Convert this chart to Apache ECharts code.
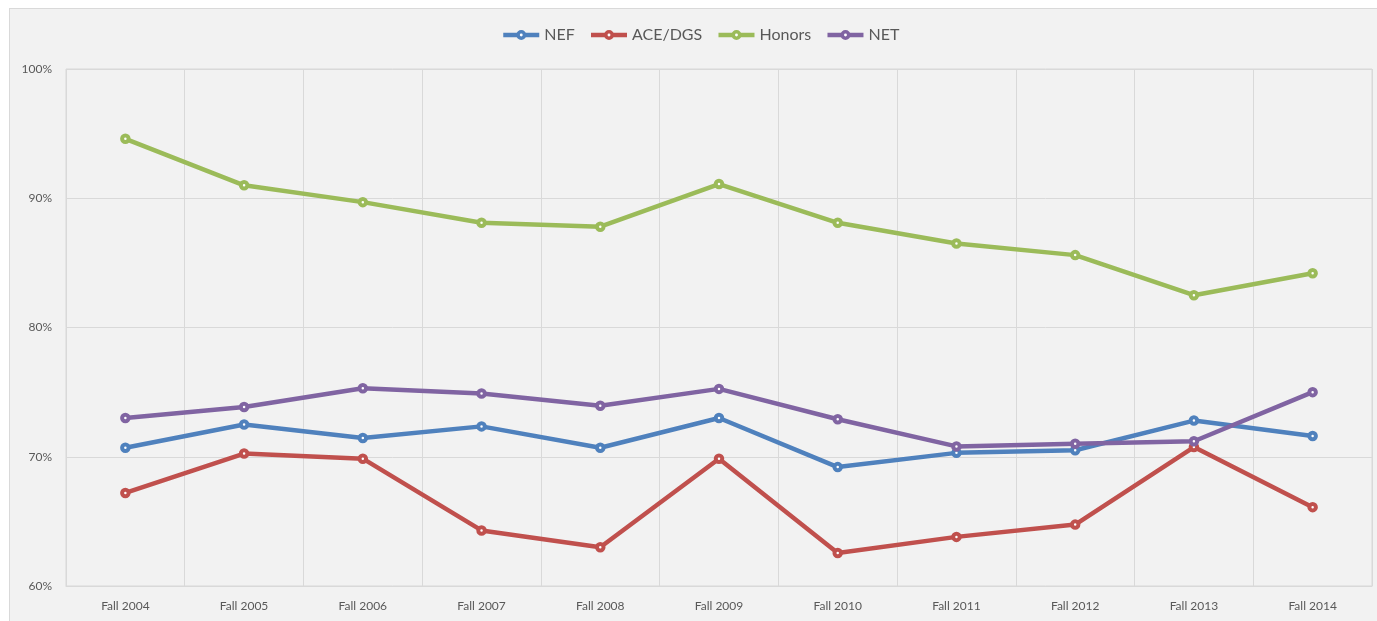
<!DOCTYPE html>
<html>
<head>
<meta charset="utf-8">
<script src="https://cdn.jsdelivr.net/npm/echarts@6/dist/echarts.min.js"></script>
<style>
  html, body { margin: 0; padding: 0; background: #ffffff; }
  .frame {
    position: absolute; left: 9px; top: 8px; width: 1368px; height: 613px;
    background: #f2f2f2; border-left: 1px solid #d9d9d9; border-top: 1px solid #d9d9d9;
    box-sizing: border-box;
  }
  #chart { position: absolute; left: 0; top: 0; width: 1377px; height: 621px; }
</style>
</head>
<body>
<div class="frame"></div>
<div id="chart"></div>
<script>
const categories = ['Fall 2004', 'Fall 2005', 'Fall 2006', 'Fall 2007', 'Fall 2008', 'Fall 2009',
  'Fall 2010', 'Fall 2011', 'Fall 2012', 'Fall 2013', 'Fall 2014']

const nef = [70.7, 72.5, 71.45, 72.35, 70.7, 73.0, 69.2, 70.3, 70.5, 72.8, 71.6]
const aceDgs = [67.2, 70.25, 69.85, 64.3, 63.0, 69.85, 62.55, 63.8, 64.75, 70.75, 66.1]
const honors = [94.6, 91.0, 89.7, 88.1, 87.8, 91.1, 88.1, 86.5, 85.6, 82.5, 84.2]
const net = [73.0, 73.85, 75.3, 74.9, 73.95, 75.25, 72.9, 70.8, 71.0, 71.2, 75.0]

const FONT = 'Lato, "Open Sans", sans-serif'
const GRID_COLOR = '#d9d9d9'
const LABEL_COLOR = '#595959'

function lineSeries(name, data, color) {
  return {
    name,
    type: 'line',
    data,
    symbol: 'circle',
    symbolSize: 6.5,
    showAllSymbol: true,
    lineStyle: { color, width: 4.5 },
    itemStyle: { color: '#ffffff', borderColor: color, borderWidth: 4 },
    emphasis: { disabled: true },
    z: 3,
  }
}

const chart = echarts.init(document.getElementById('chart'))

chart.setOption({
  backgroundColor: 'transparent',
  animation: false,
  color: ['#4f81bd', '#c0504d', '#9bbb59', '#8064a2'],
  legend: {
    top: 22,
    left: 496,
    itemWidth: 36,
    itemHeight: 8,
    itemGap: 14,
    lineStyle: { width: 4.5 },
    itemStyle: { color: '#ffffff', borderWidth: 3.5 },
    textStyle: { color: LABEL_COLOR, fontFamily: FONT, fontSize: 16 },
    data: ['NEF', 'ACE/DGS', 'Honors', 'NET'],
  },
  grid: {
    left: 66,
    right: 5,
    top: 69,
    bottom: 35,
    show: true,
    borderColor: GRID_COLOR,
    borderWidth: 1,
  },
  xAxis: {
    type: 'category',
    data: categories,
    boundaryGap: true,
    axisLine: { lineStyle: { color: GRID_COLOR } },
    axisTick: { show: false },
    axisLabel: { color: LABEL_COLOR, fontFamily: FONT, fontSize: 12, margin: 14 },
    splitLine: { show: true, interval: 0, lineStyle: { color: GRID_COLOR, width: 1 } },
  },
  yAxis: {
    type: 'value',
    min: 60,
    max: 100,
    interval: 10,
    axisLine: { show: false },
    axisTick: { show: false },
    axisLabel: { color: LABEL_COLOR, fontFamily: FONT, fontSize: 12, margin: 14, formatter: '{value}%' },
    splitLine: { lineStyle: { color: GRID_COLOR, width: 1 } },
  },
  series: [
    lineSeries('NEF', nef, '#4f81bd'),
    lineSeries('ACE/DGS', aceDgs, '#c0504d'),
    lineSeries('Honors', honors, '#9bbb59'),
    lineSeries('NET', net, '#8064a2'),
  ],
})
</script>
</body>
</html>
